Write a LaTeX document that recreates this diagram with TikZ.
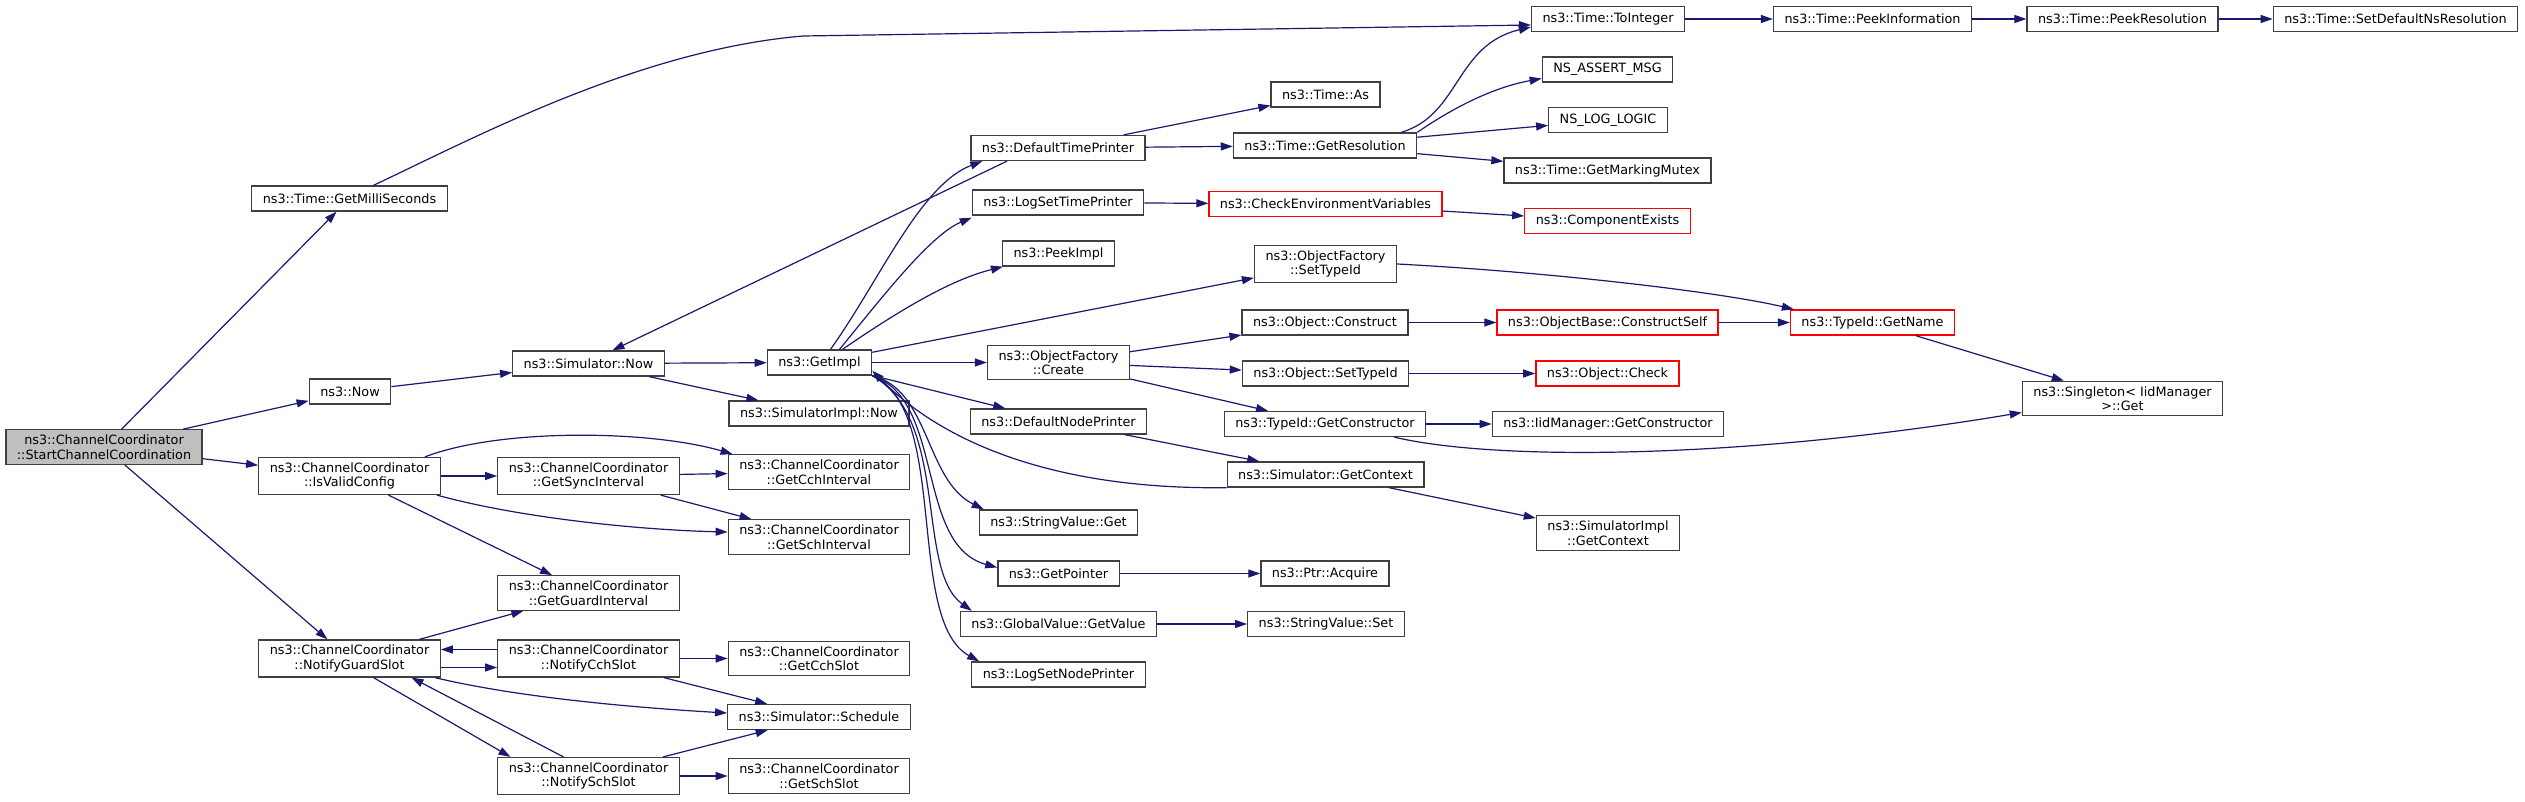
\documentclass[tikz,border=0pt]{standalone}
\usepackage{fontspec}
\setmainfont{DejaVu Sans}
\definecolor{edgeblue}{HTML}{191970}
\definecolor{frame}{HTML}{404040}
\definecolor{trunc}{HTML}{FF0000}
\definecolor{rootgray}{HTML}{BFBFBF}
\usepackage{tikz}
\usetikzlibrary{arrows.meta, positioning}
\tikzset{
  box/.style={draw=frame, fill=white, align=center, line width=1.3pt,
              font=\fontsize{12.8}{14.5}\selectfont,
              inner xsep=11pt, inner ysep=5pt, minimum height=25pt},
  root/.style={box, fill=rootgray},
  trunc/.style={box, draw=trunc},
  flow/.style={-{Triangle[length=12pt,width=8pt]}, line width=1.2pt, color=edgeblue},
}
\begin{document}
\begin{tikzpicture}[x=1pt,y=-1pt]
\useasboundingbox (0,0) rectangle (2525,802);
\node[root] (start) at (104,447) {ns3::ChannelCoordinator\\::StartChannelCoordination};
\node[box] (millis) at (349.5,198.5) {ns3::Time::GetMilliSeconds};
\node[box] (now) at (350,391.5) {ns3::Now};
\node[box] (valid) at (349.5,476) {ns3::ChannelCoordinator\\::IsValidConfig};
\node[box] (notguard) at (349.5,658.5) {ns3::ChannelCoordinator\\::NotifyGuardSlot};
\node[box] (simnow) at (588.5,363.5) {ns3::Simulator::Now};
\node[box] (sync) at (588.5,476) {ns3::ChannelCoordinator\\::GetSyncInterval};
\node[box] (guard) at (588.5,593) {ns3::ChannelCoordinator\\::GetGuardInterval};
\node[box] (notcch) at (588.5,658.5) {ns3::ChannelCoordinator\\::NotifyCchSlot};
\node[box] (notsch) at (588.5,776) {ns3::ChannelCoordinator\\::NotifySchSlot};
\node[box] (getimpl) at (819.5,362.5) {ns3::GetImpl};
\node[box] (implnow) at (819,413.5) {ns3::SimulatorImpl::Now};
\node[box] (cchint) at (819,472) {ns3::ChannelCoordinator\\::GetCchInterval};
\node[box] (schint) at (819,537) {ns3::ChannelCoordinator\\::GetSchInterval};
\node[box] (cchslot) at (819,658.5) {ns3::ChannelCoordinator\\::GetCchSlot};
\node[box] (schedule) at (819,717) {ns3::Simulator::Schedule};
\node[box] (schslot) at (819,776) {ns3::ChannelCoordinator\\::GetSchSlot};
\node[box] (deftime) at (1058,148) {ns3::DefaultTimePrinter};
\node[box] (logtime) at (1058,202.5) {ns3::LogSetTimePrinter};
\node[box] (peekimpl) at (1058.5,253.5) {ns3::PeekImpl};
\node[box] (create) at (1058.5,362.5) {ns3::ObjectFactory\\::Create};
\node[box] (defnode) at (1058.5,421.5) {ns3::DefaultNodePrinter};
\node[box] (strget) at (1058.5,522.5) {ns3::StringValue::Get};
\node[box] (getptr) at (1058.5,573.5) {ns3::GetPointer};
\node[box] (globval) at (1058.5,624) {ns3::GlobalValue::GetValue};
\node[box] (lognode) at (1058.5,674.5) {ns3::LogSetNodePrinter};
\node[box] (timeas) at (1325.5,94.5) {ns3::Time::As};
\node[box] (getres) at (1325,145.5) {ns3::Time::GetResolution};
\node[trunc] (checkenv) at (1325.5,204) {ns3::CheckEnvironmentVariables};
\node[box] (settype) at (1325.5,264) {ns3::ObjectFactory\\::SetTypeId};
\node[box] (construct) at (1325,322.5) {ns3::Object::Construct};
\node[box] (objset) at (1325.5,373.5) {ns3::Object::SetTypeId};
\node[box] (getctor) at (1325,424) {ns3::TypeId::GetConstructor};
\node[box] (getctx) at (1325.5,474.5) {ns3::Simulator::GetContext};
\node[box] (acquire) at (1325,573.5) {ns3::Ptr::Acquire};
\node[box] (strset) at (1326,624) {ns3::StringValue::Set};
\node[box] (toint) at (1608,19) {ns3::Time::ToInteger};
\node[box] (assert) at (1607.5,69.5) {NS\_ASSERT\_MSG};
\node[box] (loglogic) at (1608,120) {NS\_LOG\_LOGIC};
\node[box] (mutex) at (1607.5,170.5) {ns3::Time::GetMarkingMutex};
\node[trunc] (exists) at (1607.5,221) {ns3::ComponentExists};
\node[trunc] (constself) at (1607.5,322.5) {ns3::ObjectBase::ConstructSelf};
\node[trunc] (check) at (1607.5,373.5) {ns3::Object::Check};
\node[box] (iidctor) at (1608,424) {ns3::IidManager::GetConstructor};
\node[box] (implctx) at (1608,533) {ns3::SimulatorImpl\\::GetContext};
\node[box] (peekinfo) at (1872.5,19) {ns3::Time::PeekInformation};
\node[trunc] (getname) at (1872.5,322.5) {ns3::TypeId::GetName};
\node[box] (peekres) at (2122.5,19) {ns3::Time::PeekResolution};
\node[box] (singleton) at (2122.5,398.5) {ns3::Singleton< IidManager\\>::Get};
\node[box] (setres) at (2395.5,19) {ns3::Time::SetDefaultNsResolution};

\draw[flow] (start)--(millis);\draw[flow] (start)--(now);
\draw[flow] (start)--(valid);\draw[flow] (start)--(notguard);
\draw[flow] ([xshift=24pt]millis.north) .. controls (480,135) and (640,50) .. (803,36) -- ([yshift=-6pt]toint.west);
\draw[flow] (now)--(simnow);
\draw[flow] (simnow)--(getimpl);\draw[flow] (simnow)--(implnow);
\draw[flow] ([xshift=-16pt]valid.north east) .. controls (500,428) and (650,430) .. ([xshift=5pt]cchint.north west);
\draw[flow] (valid)--(sync);
\draw[flow] ([xshift=-4pt]valid.south east) .. controls (520,518) and (640,530) .. ([yshift=5pt]schint.west);
\draw[flow] (valid)--(guard);
\draw[flow] (sync)--(cchint);\draw[flow] (sync)--(schint);
\draw[flow] (notguard)--(guard);
\draw[flow] ([yshift=-9pt]notguard.east)--([yshift=-9pt]notcch.west);
\draw[flow] ([yshift=9pt]notcch.west)--([yshift=9pt]notguard.east);
\draw[flow] ([xshift=-6pt]notguard.south east) .. controls (520,698) and (640,708) .. ([yshift=4pt]schedule.west);
\draw[flow] ([xshift=24pt]notguard.south)--([xshift=-78pt]notsch.north);
\draw[flow] ([xshift=-25pt]notsch.north)--([xshift=62pt]notguard.south);
\draw[flow] (notcch)--(cchslot);\draw[flow] (notcch)--(schedule);
\draw[flow] (notsch)--(schedule);\draw[flow] (notsch)--(schslot);
\draw[flow] ([xshift=11pt]getimpl.north) .. controls (880,280) and (920,185) .. ([xshift=12pt]deftime.south west);
\draw[flow] ([xshift=20pt]getimpl.north) .. controls (880,300) and (930,235) .. ([yshift=-2pt]logtime.south west);
\draw[flow] ([xshift=23pt]getimpl.north) .. controls (900,310) and (950,280) .. ([xshift=1pt]peekimpl.south west);
\draw[flow] (getimpl)--(settype);
\draw[flow] (getimpl)--(create);
\draw[flow] (getimpl)--(defnode);
\draw[flow] (getimpl.south east) .. controls (930,390) and (925,480) .. ([xshift=5pt]strget.north west);
\draw[flow] (getimpl.south east) .. controls (945,400) and (915,545) .. ([yshift=6pt]getptr.west);
\draw[flow] (getimpl.south east) .. controls (950,420) and (915,570) .. ([xshift=12pt]globval.north west);
\draw[flow] (getimpl.south east) .. controls (950,410) and (905,620) .. ([xshift=8pt]lognode.north west);
\draw[flow] ([xshift=-51pt]deftime.south)--([xshift=24pt]simnow.north);
\draw[flow] (deftime)--(timeas);\draw[flow] (deftime)--(getres);
\draw[flow] (logtime)--(checkenv);
\draw[flow] (create)--(construct);\draw[flow] (create)--(objset);
\draw[flow] (create)--(getctor);
\draw[flow] (defnode)--(getctx);
\draw[flow] (getptr)--(acquire);\draw[flow] (globval)--(strset);
\draw[flow] ([xshift=-16pt]getres.north east) .. controls (1460,115) and (1455,45) .. ([yshift=-8pt]toint.west);
\draw[flow] (getres.north east) .. controls (1450,110) and (1490,88) .. ([yshift=-9pt]assert.west);
\draw[flow] (getres)--(loglogic);\draw[flow] (getres)--(mutex);
\draw[flow] (checkenv)--(exists);
\draw[flow] (settype.east) .. controls (1550,272) and (1720,292) .. ([xshift=4pt]getname.north west);
\draw[flow] (construct)--(constself);\draw[flow] (objset)--(check);
\draw[flow] (getctor)--(iidctor);
\draw[flow] ([xshift=-32pt]getctor.south east) .. controls (1500,462) and (1750,458) .. ([yshift=-14pt]singleton.west);
\draw[flow] (getctx.south west) .. controls (1050,490) and (940,440) .. ([yshift=5pt]getimpl.south east);
\draw[flow] (getctx)--(implctx);
\draw[flow] (constself)--(getname);\draw[flow] (getname)--(singleton);
\draw[flow] (toint)--(peekinfo);\draw[flow] (peekinfo)--(peekres);\draw[flow] (peekres)--(setres);
\end{tikzpicture}
\end{document}
